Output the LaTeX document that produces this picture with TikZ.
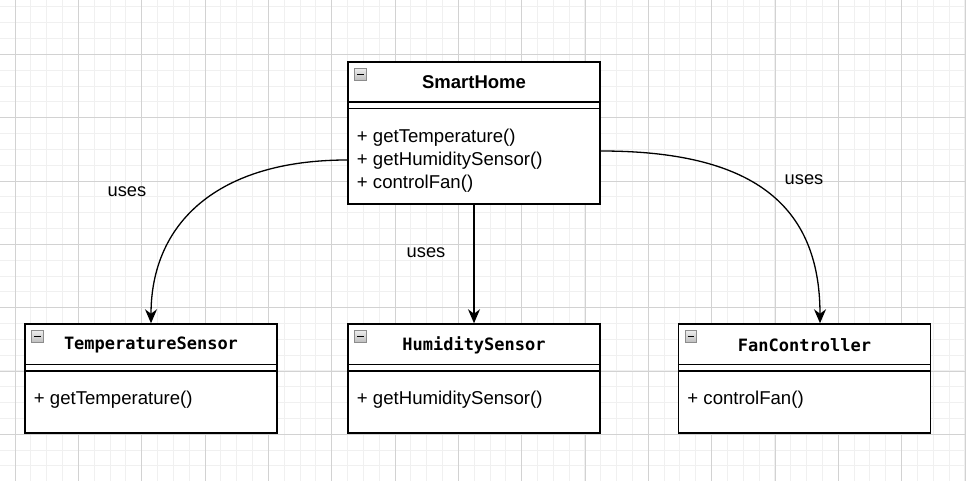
\documentclass[tikz,border=0pt]{standalone}
\usepackage{fontspec}
\setmainfont{Liberation Sans}
\newfontfamily\classfont{DejaVu Sans Mono}
\usetikzlibrary{arrows.meta}

\tikzset{
  classbox/.style={draw, line width=1.5pt, fill=white, minimum width=252pt, inner sep=0pt},
  classtitle/.style={font=\classfont\bfseries\fontsize{17}{20}\selectfont, inner sep=0pt},
  member/.style={font=\fontsize{18.6}{23}\selectfont, align=left, anchor=west, inner sep=0pt},
  usestext/.style={font=\fontsize{18.3}{22}\selectfont, inner sep=0pt},
  foldicon/.style={draw=gray!90, top color=gray!15, bottom color=gray!50, minimum size=11.5pt, inner sep=0pt,
    path picture={\draw[black, line width=1.2pt] ([xshift=2.5pt]path picture bounding box.west) -- ([xshift=-2.5pt]path picture bounding box.east);}},
  uses/.style={line width=1.3pt, -{Stealth[length=14pt, width=12pt, inset=4.5pt]}},
  minorline/.style={gray!12, line width=0.8pt},
  majorline/.style={gray!35, line width=0.8pt}
}

\begin{document}
\begin{tikzpicture}[x=1pt,y=-1pt]
    \fill[white] (0,0) rectangle (966,481);
    \useasboundingbox (0,0) rectangle (966,481);
    % background grid
    \foreach \i in {0,...,61} \draw[minorline] (15.83*\i-0.83,0) -- (15.83*\i-0.83,481);
    \foreach \i in {0,...,29} \draw[minorline] (0,15.83*\i+6.8) -- (966,15.83*\i+6.8);
    \foreach \i in {0,...,15} \draw[majorline] (63.33*\i+15,0) -- (63.33*\i+15,481);
    \foreach \i in {0,...,7} \draw[majorline] (0,63.33*\i-9) -- (966,63.33*\i-9);

    % classes
    \node[classbox, minimum height=142pt] (home) at (474,133) {};
    \node[classbox, minimum height=109pt] (temp) at (151,378.5) {};
    \node[classbox, minimum height=109pt] (humid) at (474,378.5) {};
    \node[classbox, minimum height=109pt] (fan) at (804.5,378.5) {};
    \foreach \c in {home,temp,humid,fan} {
        \draw[line width=1.5pt] ([yshift=-41pt]\c.north west) -- ([yshift=-41pt]\c.north east);
        \draw[line width=1.5pt] ([yshift=-47.5pt]\c.north west) -- ([yshift=-47.5pt]\c.north east);
        \node[foldicon] (\c-icon) at ([xshift=13pt,yshift=-13pt]\c.north west) {};
    }

    \node[inner sep=0pt, font=\bfseries\fontsize{18.5}{22}\selectfont] (home-title) at ([yshift=-20.5pt]home.north) {SmartHome};
    \node[classtitle] (temp-title) at ([yshift=-22pt]temp.north) {TemperatureSensor};
    \node[classtitle] (humid-title) at ([yshift=-22pt]humid.north) {HumiditySensor};
    \node[classtitle] (fan-title) at ([yshift=-22pt]fan.north) {FanController};

    \node[member] (home-ops) at ([xshift=9.5pt,yshift=-28pt]home.west) {+ getTemperature()\\+ getHumiditySensor()\\+ controlFan()};
    \node[member] (temp-ops) at ([xshift=9.5pt,yshift=-21.5pt]temp.west) {+ getTemperature()};
    \node[member] (humid-ops) at ([xshift=9.5pt,yshift=-21.5pt]humid.west) {+ getHumiditySensor()};
    \node[member] (fan-ops) at ([xshift=9.5pt,yshift=-21.5pt]fan.west) {+ controlFan()};

    % connectors
    \draw[uses] ([yshift=-27pt]home.west) .. controls +(-130,0) and +(0,-100) .. (temp.north);
    \draw[uses] (home.south) -- (humid.north);
    \draw[uses] ([yshift=-18pt]home.east) .. controls +(150,0) and +(0,-120) .. ([xshift=15.5pt]fan.north);
    \node[usestext] (uses-temp) at (127,192) {uses};
    \node[usestext] (uses-humid) at (426,253) {uses};
    \node[usestext] (uses-fan) at (804,180) {uses};
\end{tikzpicture}
\end{document}
